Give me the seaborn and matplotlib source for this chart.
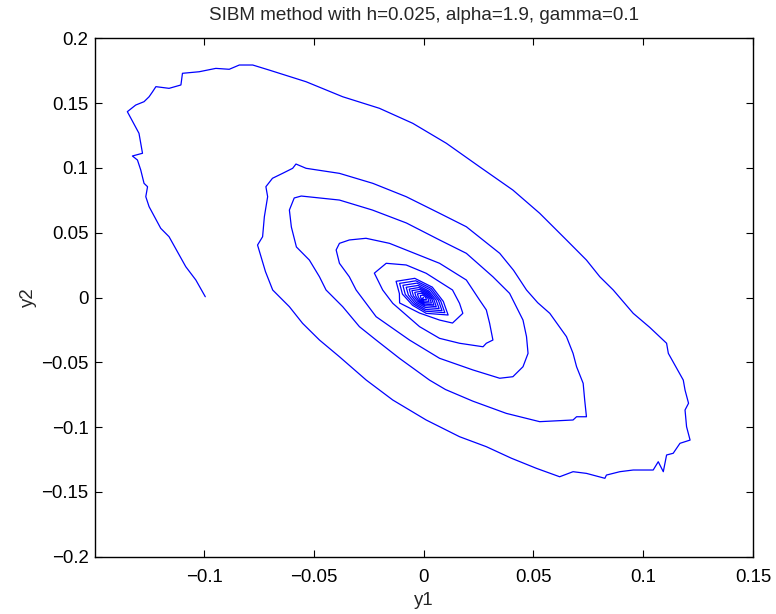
import numpy as np
import pandas as pd
import matplotlib
matplotlib.use("Agg")
import matplotlib.pyplot as plt
import seaborn as sns

# outer turn: start at (-0.1, 0), up the left, over the top, down the right, back along the bottom
y1_outer = [-0.0994, -0.1037, -0.1083, -0.1159, -0.1197, -0.1250, -0.1265, -0.1257, -0.1273, -0.1288,
            -0.1303, -0.1326, -0.1280, -0.1296, -0.1349, -0.1311, -0.1273, -0.1250, -0.1234, -0.1219,
            -0.1159, -0.1105, -0.1098, -0.1022, -0.0946, -0.0885, -0.0839, -0.0778, -0.0703, -0.0535,
            -0.0368, -0.0201, -0.0049, 0.0104, 0.0255, 0.0407, 0.0529, 0.0651, 0.0742, 0.0803,
            0.0864, 0.0955, 0.1030, 0.1107, 0.1115, 0.1183, 0.1191, 0.1207, 0.1191, 0.1198,
            0.1214, 0.1168, 0.1137, 0.1107, 0.1092, 0.1069, 0.1046, 0.0955, 0.0894, 0.0833,
            0.0826, 0.0742, 0.0681, 0.0620, 0.0514, 0.0400, 0.0286, 0.0164, 0.0012]
y2_outer = [0.0006, 0.0135, 0.0238, 0.0469, 0.0534, 0.0701, 0.0778, 0.0855, 0.0881, 0.0984,
            0.1061, 0.1092, 0.1113, 0.1267, 0.1434, 0.1485, 0.1511, 0.1549, 0.1588, 0.1627,
            0.1614, 0.1640, 0.1730, 0.1742, 0.1768, 0.1761, 0.1794, 0.1794, 0.1755, 0.1665,
            0.1549, 0.1460, 0.1344, 0.1190, 0.1009, 0.0829, 0.0650, 0.0444, 0.0289, 0.0160,
            0.0058, -0.0122, -0.0230, -0.0353, -0.0431, -0.0637, -0.0714, -0.0816, -0.0868, -0.0997,
            -0.1100, -0.1125, -0.1202, -0.1215, -0.1344, -0.1267, -0.1331, -0.1331, -0.1344, -0.1370,
            -0.1395, -0.1357, -0.1344, -0.1383, -0.1318, -0.1240, -0.1151, -0.1074, -0.0945]

# turns 2 to 5
y1_mid = [-0.0140, -0.0261, -0.0383, -0.0474, -0.0551, -0.0611, -0.0687, -0.0720, -0.0740, -0.0756,
          -0.0733, -0.0725, -0.0710, -0.0718, -0.0688, -0.0642, -0.0596, -0.0581, -0.0535, -0.0383,
          -0.0231, -0.0079, 0.0073, 0.0195, 0.0347, 0.0410, 0.0469, 0.0520, 0.0575, 0.0651,
          0.0681, 0.0697, 0.0727, 0.0734, 0.0742, 0.0697, 0.0681, 0.0529, 0.0377, 0.0225,
          0.0100, 0.0027, -0.0109, -0.0216, -0.0292, -0.0368, -0.0444, -0.0474, -0.0520, -0.0579,
          -0.0602, -0.0611, -0.0589, -0.0557, -0.0383, -0.0233, -0.0078, 0.0073, 0.0195, 0.0316,
          0.0392, 0.0453, 0.0469, 0.0476, 0.0453, 0.0407, 0.0347, 0.0225, 0.0073, -0.0064,
          -0.0216, -0.0307, -0.0338, -0.0383, -0.0398, -0.0383, -0.0338, -0.0262, -0.0155, -0.0003,
          0.0073, 0.0195, 0.0255, 0.0286, 0.0301, 0.0316, 0.0286, 0.0271, 0.0164, 0.0073,
          -0.0018, -0.0140, -0.0186, -0.0224, -0.0170, -0.0079, 0.0012, 0.0096, 0.0132, 0.0164,
          0.0179, 0.0132, 0.0073, -0.0018, -0.0109]
y2_mid = [-0.0791, -0.0637, -0.0457, -0.0328, -0.0199, -0.0071, 0.0058, 0.0200, 0.0315, 0.0405,
          0.0469, 0.0623, 0.0778, 0.0855, 0.0920, 0.0958, 0.0997, 0.1030, 0.0997, 0.0958,
          0.0881, 0.0778, 0.0650, 0.0546, 0.0341, 0.0210, 0.0058, -0.0040, -0.0122, -0.0302,
          -0.0431, -0.0534, -0.0662, -0.0791, -0.0920, -0.0920, -0.0945, -0.0958, -0.0894, -0.0800,
          -0.0710, -0.0637, -0.0470, -0.0328, -0.0225, -0.0071, 0.0058, 0.0160, 0.0289, 0.0390,
          0.0544, 0.0675, 0.0768, 0.0783, 0.0752, 0.0675, 0.0575, 0.0444, 0.0341, 0.0160,
          0.0032, -0.0174, -0.0302, -0.0431, -0.0534, -0.0611, -0.0623, -0.0559, -0.0469, -0.0328,
          -0.0148, 0.0058, 0.0160, 0.0264, 0.0367, 0.0418, 0.0444, 0.0457, 0.0418, 0.0315,
          0.0264, 0.0135, -0.0019, -0.0096, -0.0199, -0.0328, -0.0353, -0.0380, -0.0353, -0.0315,
          -0.0225, -0.0045, 0.0058, 0.0188, 0.0264, 0.0251, 0.0187, 0.0096, 0.0058, -0.0045,
          -0.0122, -0.0197, -0.0174, -0.0120, -0.0042]

# dense core near the origin, ring by ring
y1_core = [-0.0110, -0.0125, -0.0040, 0.0040, 0.0090, 0.0112, 0.0012, -0.0050,
           -0.0096, -0.0109, -0.0035, 0.0035, 0.0078, 0.0097, 0.0010, -0.0044,
           -0.0083, -0.0094, -0.0030, 0.0030, 0.0068, 0.0084, 0.0009, -0.0038,
           -0.0069, -0.0079, -0.0025, 0.0025, 0.0057, 0.0071, 0.0008, -0.0032,
           -0.0057, -0.0065, -0.0021, 0.0021, 0.0047, 0.0058, 0.0006, -0.0026,
           -0.0046, -0.0053, -0.0017, 0.0017, 0.0038, 0.0047, 0.0005, -0.0021,
           -0.0035, -0.0040, -0.0013, 0.0013, 0.0029, 0.0036, 0.0004, -0.0016,
           -0.0024, -0.0028, -0.0009, 0.0009, 0.0020, 0.0025, 0.0003, -0.0011,
           -0.0013, -0.0015, -0.0005, 0.0005, 0.0011, 0.0013, 0.0001, -0.0006, 0.0000]
y2_core = [0.0030, 0.0125, 0.0148, 0.0080, -0.0030, -0.0135, -0.0122, -0.0060,
           0.0026, 0.0109, 0.0129, 0.0070, -0.0026, -0.0117, -0.0106, -0.0052,
           0.0023, 0.0094, 0.0111, 0.0060, -0.0023, -0.0101, -0.0092, -0.0045,
           0.0019, 0.0079, 0.0093, 0.0050, -0.0019, -0.0085, -0.0077, -0.0038,
           0.0016, 0.0065, 0.0077, 0.0042, -0.0016, -0.0070, -0.0063, -0.0031,
           0.0013, 0.0053, 0.0062, 0.0034, -0.0013, -0.0057, -0.0051, -0.0025,
           0.0010, 0.0040, 0.0047, 0.0026, -0.0010, -0.0043, -0.0039, -0.0019,
           0.0007, 0.0028, 0.0033, 0.0018, -0.0007, -0.0030, -0.0027, -0.0013,
           0.0004, 0.0015, 0.0018, 0.0010, -0.0004, -0.0016, -0.0015, -0.0007, 0.0000]

x_ticks = [-0.1, -0.05, 0, 0.05, 0.1, 0.15]
y_ticks = [-0.2, -0.15, -0.1, -0.05, 0, 0.05, 0.1, 0.15, 0.2]

df = pd.DataFrame({
    "y1": y1_outer + y1_mid + y1_core,
    "y2": y2_outer + y2_mid + y2_core,
})
df["step"] = np.arange(len(df))

sns.set_style("ticks")
plt.rcParams["font.family"] = ["Liberation Sans", "DejaVu Sans"]
plt.rcParams["xtick.direction"] = "in"
plt.rcParams["ytick.direction"] = "in"
plt.rcParams["xtick.top"] = True
plt.rcParams["ytick.right"] = True

fig = plt.figure(figsize=(7.76, 6.14), dpi=100)
ax = fig.add_axes([0.1228, 0.0933, 0.8474, 0.8443])

sns.lineplot(data=df, x="y1", y="y2", sort=False, estimator=None,
             color="#0000ff", linewidth=0.9, ax=ax)

ax.set_xlim(-0.1495, 0.15)
ax.set_ylim(-0.2, 0.2)
ax.set_xticks(x_ticks)
ax.set_yticks(y_ticks)
ax.set_xticklabels([f"{t:g}".replace("-", "\u2212") for t in x_ticks])
ax.set_yticklabels([f"{t:g}".replace("-", "\u2212") for t in y_ticks])
ax.tick_params(length=5, width=0.8, labelsize=13.4, colors="black")
ax.tick_params(axis="x", pad=9)
ax.tick_params(axis="y", pad=5)
for s in ax.spines.values():
    s.set_linewidth(1.0)
    s.set_color("black")

ax.set_xlabel("y1", fontsize=13.4, labelpad=4)
ax.set_ylabel("y2", fontsize=13.4, labelpad=3)
ax.set_title("SIBM method with h=0.025, alpha=1.9, gamma=0.1", fontsize=13.6, pad=13)

fig.savefig("out.png", dpi=100)
